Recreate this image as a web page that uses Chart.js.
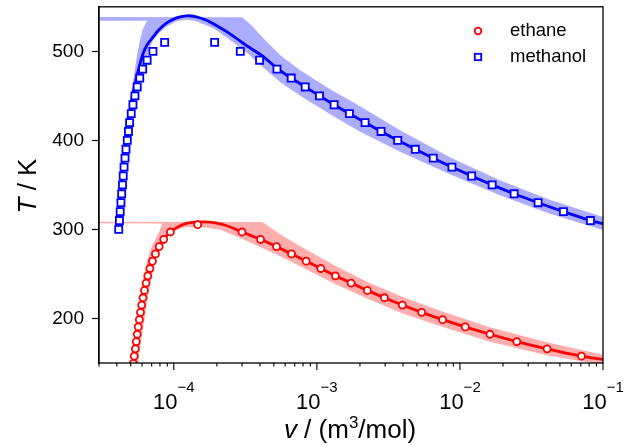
<!DOCTYPE html>
<html lang="en">
<head>
<meta charset="UTF-8">
<title>Saturation curves of ethane and methanol</title>
<script src="https://cdn.jsdelivr.net/npm/chart.js@4.4.0/dist/chart.umd.min.js"></script>
<style>
    html, body { margin: 0; padding: 0; background: #ffffff; }
    #wrap { width: 635px; height: 445px; }
</style>
</head>
<body>
<div id="wrap"><canvas id="chart" width="635" height="445"></canvas></div>
<script>
// ---- data: v in m3/mol, T in K ----
const ethaneLiqT = [297.1, 288.9, 280.7, 272.5, 264.3, 256.1, 247.9, 239.7, 231.5, 223.3, 215.1, 206.9, 198.7, 190.5, 182.3, 174.1, 165.9, 157.7, 149.5];
const ethaneLiqV = [9.47e-5, 8.50e-5, 7.90e-5, 7.44e-5, 7.09e-5, 6.81e-5, 6.58e-5, 6.40e-5, 6.235e-5, 6.09e-5, 5.96e-5, 5.845e-5, 5.74e-5, 5.64e-5, 5.55e-5, 5.465e-5, 5.38e-5, 5.29e-5, 5.21e-5];
const ethaneVapT = [305.3, 297.1, 288.9, 280.7, 272.5, 264.3, 256.1, 247.9, 239.7, 231.5, 223.3, 215.1, 206.9, 198.7, 190.5, 182.3, 174.1, 165.9, 157.7];
const ethaneVapV = [1.468e-4, 2.996e-4, 4.04e-4, 5.23e-4, 6.65e-4, 8.42e-4, 1.066e-3, 1.348e-3, 1.735e-3, 2.255e-3, 2.963e-3, 3.958e-3, 5.40e-3, 7.57e-3, 1.089e-2, 1.620e-2, 2.498e-2, 4.066e-2, 7.07e-2];

const methanolLiqT = [300, 310, 320, 330, 340, 350, 360, 370, 380, 390, 400, 410, 420, 430, 440, 450, 460, 470, 480, 490, 500, 510];
const methanolLiqV = [4.12e-5, 4.17e-5, 4.22e-5, 4.27e-5, 4.32e-5, 4.38e-5, 4.43e-5, 4.49e-5, 4.56e-5, 4.63e-5, 4.73e-5, 4.82e-5, 4.91e-5, 5.04e-5, 5.18e-5, 5.35e-5, 5.55e-5, 5.78e-5, 6.06e-5, 6.51e-5, 7.15e-5, 8.63e-5];
const methanolVapT = [510, 500, 490, 480, 470, 460, 450, 440, 430, 420, 410, 400, 390, 380, 370, 360, 350, 340, 330, 320, 310];
const methanolVapV = [1.929e-4, 2.916e-4, 3.976e-4, 5.26e-4, 6.62e-4, 8.29e-4, 1.043e-3, 1.32e-3, 1.689e-3, 2.173e-3, 2.81e-3, 3.675e-3, 4.876e-3, 6.51e-3, 8.79e-3, 1.207e-2, 1.68e-2, 2.393e-2, 3.52e-2, 5.29e-2, 8.17e-2];

// model curves
const ethaneModelV = [5.124e-5, 5.21e-5, 5.29e-5, 5.38e-5, 5.465e-5, 5.55e-5, 5.64e-5, 5.74e-5, 5.845e-5, 5.96e-5, 6.09e-5, 6.235e-5, 6.40e-5, 6.58e-5, 6.81e-5, 7.09e-5, 7.44e-5, 7.90e-5, 8.50e-5, 9.47e-5, 1.077e-4, 1.224e-4, 1.415e-4, 1.662e-4, 1.951e-4, 2.292e-4, 2.606e-4, 2.996e-4, 4.04e-4, 5.23e-4, 6.65e-4, 8.42e-4, 1.066e-3, 1.348e-3, 1.735e-3, 2.255e-3, 2.963e-3, 3.958e-3, 5.40e-3, 7.57e-3, 1.089e-2, 1.620e-2, 2.498e-2, 4.066e-2, 7.07e-2, 0.1];
const ethaneModelT = [145, 149.5, 157.7, 165.9, 174.1, 182.3, 190.5, 198.7, 206.9, 215.1, 223.3, 231.5, 239.7, 247.9, 256.1, 264.3, 272.5, 280.7, 288.9, 297.1, 303.0, 306.7, 308.3, 308.4, 307.3, 304.7, 301.4, 297.1, 288.9, 280.7, 272.5, 264.3, 256.1, 247.9, 239.7, 231.5, 223.3, 215.1, 206.9, 198.7, 190.5, 182.3, 174.1, 165.9, 157.7, 153.8];
const methanolModelV = [4.073e-5, 4.146e-5, 4.234e-5, 4.330e-5, 4.450e-5, 4.595e-5, 4.783e-5, 5.019e-5, 5.310e-5, 5.690e-5, 6.106e-5, 6.543e-5, 7.170e-5, 7.809e-5, 8.737e-5, 1.043e-4, 1.224e-4, 1.438e-4, 1.662e-4, 1.889e-4, 2.455e-4, 3.211e-4, 4.201e-4, 5.26e-4, 6.62e-4, 8.29e-4, 1.043e-3, 1.32e-3, 1.689e-3, 2.173e-3, 2.81e-3, 3.675e-3, 4.876e-3, 6.51e-3, 8.79e-3, 1.207e-2, 1.68e-2, 2.393e-2, 3.52e-2, 5.29e-2, 8.17e-2, 0.1];
const methanolModelT = [300.0, 320.2, 340.4, 360.7, 380.9, 400.0, 420.2, 440.4, 460.7, 480.9, 497.8, 507.9, 516.1, 523.6, 530.9, 537.6, 539.9, 538.8, 535.4, 530.9, 519.9, 506.7, 494.4, 480.9, 470, 460, 450, 440, 430, 420, 410, 400, 390, 380, 370, 360, 350, 340, 330, 320, 310, 306.2];

// uncertainty bands, outlined as closed shapes
const ethaneBandV = [2.9e-5, 4.153e-4, 5.545e-4, 7.647e-4, 1.342e-3, 2.244e-3, 3.939e-3, 7.608e-3, 1.62e-2, 4.047e-2, 0.1114, 0.1114, 4.066e-2, 1.62e-2, 7.608e-3, 3.939e-3, 2.244e-3, 1.342e-3, 8.42e-4, 5.226e-4, 4.04e-4, 2.996e-4, 2.114e-4, 1.533e-4, 1.205e-4, 1.026e-4, 9.47e-5, 8.88e-5, 8.19e-5, 7.5e-5, 7.03e-5, 6.7e-5, 6.437e-5, 6.235e-5, 5.99e-5, 5.78e-5, 5.616e-5, 5.083e-5, 5.207e-5, 5.377e-5, 5.553e-5, 5.735e-5, 5.94e-5, 6.185e-5, 6.49e-5, 6.92e-5, 7.44e-5, 7.935e-5, 8.26e-5, 8.26e-5, 2.9e-5];
const ethaneBandT = [308.6, 308.3, 294.6, 281.2, 259.3, 241.3, 224.5, 207.6, 190.2, 173.4, 157.7, 146.5, 158.8, 174.0, 190.3, 206.0, 222.5, 238.8, 255.3, 271.8, 280.0, 289.6, 299.7, 303.0, 302.5, 299.7, 295.7, 289.6, 280.0, 264.3, 248.6, 231.8, 214.9, 198.1, 181.3, 164.4, 146.5, 146.5, 164.4, 181.3, 198.1, 214.9, 231.8, 248.6, 264.3, 278.9, 289.0, 298.0, 305.8, 306.7, 306.9];
const methanolBandV = [2.9e-5, 3.01e-4, 3.54e-4, 4.29e-4, 5.55e-4, 7.65e-4, 1.238e-3, 2.006e-3, 3.814e-3, 8.51e-3, 1.901e-2, 4.246e-2, 0.1114, 0.1114, 4.246e-2, 1.901e-2, 8.51e-3, 3.814e-3, 2.006e-3, 1.238e-3, 7.65e-4, 5.55e-4, 4.201e-4, 3.211e-4, 2.483e-4, 1.889e-4, 1.438e-4, 1.224e-4, 1.043e-4, 8.737e-5, 7.809e-5, 7.09e-5, 6.647e-5, 5.94e-5, 5.377e-5, 4.939e-5, 4.669e-5, 4.398e-5, 4.239e-5, 4.124e-5, 4.027e-5, 4.138e-5, 4.286e-5, 4.484e-5, 4.707e-5, 4.939e-5, 5.267e-5, 5.527e-5, 5.754e-5, 6.036e-5, 6.49e-5, 2.9e-5];
const methanolBandT = [538.5, 538.2, 528.1, 513.5, 495.5, 478.7, 457.4, 438.3, 411.3, 381.0, 355.2, 333.3, 311.5, 296.9, 317.7, 338.4, 361.9, 387.2, 409.7, 429.3, 450.1, 465.2, 482.0, 498.9, 512.3, 525.8, 533.7, 535.4, 533.7, 526.9, 519.6, 511.2, 500.0, 473.1, 445.0, 416.9, 388.9, 360.8, 332.8, 300.2, 300.2, 332.8, 360.8, 388.9, 416.9, 445.0, 473.1, 495.5, 510.1, 523.6, 534.2, 534.2];

// axes
const xMin = 3e-5, xMax = 0.1;
const yMin = 150, yMax = 550;
const yTicks = [200, 300, 400, 500];
const xMajorTicks = [1e-4, 1e-3, 1e-2, 1e-1];
const xTickExponents = ['\u22124', '\u22123', '\u22122', '\u22121'];
const legendLabels = ['ethane', 'methanol'];

const FONT = "'Liberation Sans', Arial, Helvetica, sans-serif";
const RED = '#ff0000', BLUE = '#0000ff';

function pairs(vs, ts) {
    return vs.map((v, i) => ({ x: v, y: ts[i] }));
}

function bandSet(vs, ts, color) {
    return {
        data: pairs(vs, ts),
        showLine: true,
        borderWidth: 0,
        borderColor: 'rgba(0,0,0,0)',
        backgroundColor: color,
        fill: 'shape',
        pointRadius: 0,
        tension: 0,
        order: 3
    };
}

function modelSet(vs, ts, color) {
    return {
        data: pairs(vs, ts),
        showLine: true,
        borderColor: color,
        borderWidth: 2.8,
        fill: false,
        pointRadius: 0,
        tension: 0.25,
        clip: 0,
        order: 2
    };
}

function markerSet(vs, ts, color, style, r) {
    return {
        data: pairs(vs, ts),
        showLine: false,
        pointStyle: style,
        pointRadius: r,
        pointBorderWidth: 1.8,
        pointBorderColor: color,
        pointBackgroundColor: '#ffffff',
        borderColor: color,
        backgroundColor: '#ffffff',
        clip: 0,
        order: 1
    };
}

// frame, log ticks, superscript labels, titles and legend
const decorations = {
    id: 'decorations',
    afterDraw(chart) {
        const { ctx, chartArea: a } = chart;
        const x = chart.scales.x;
        ctx.save();

        ctx.strokeStyle = '#000';
        ctx.lineWidth = 1.3;
        ctx.strokeRect(a.left, a.top, a.right - a.left, a.bottom - a.top);

        // x ticks (major + minor)
        ctx.lineWidth = 1.1;
        for (let e = -5; e <= -1; e++) {
            for (let k = 1; k <= 9; k++) {
                const v = k * Math.pow(10, e);
                if (v < xMin * 0.999 || v > xMax * 1.001) continue;
                const px = x.getPixelForValue(v);
                const len = k === 1 ? 7 : 3.5;
                ctx.beginPath();
                ctx.moveTo(px, a.bottom);
                ctx.lineTo(px, a.bottom + len);
                ctx.stroke();
            }
        }

        // x tick labels 10^n
        ctx.fillStyle = '#000';
        ctx.textBaseline = 'alphabetic';
        ctx.textAlign = 'left';
        xMajorTicks.forEach((v, i) => {
            const px = x.getPixelForValue(v);
            ctx.font = '22px ' + FONT;
            const wBase = ctx.measureText('10').width;
            ctx.font = '15px ' + FONT;
            const wExp = ctx.measureText(xTickExponents[i]).width;
            const start = px - (wBase + wExp) / 2;
            ctx.font = '22px ' + FONT;
            ctx.fillText('10', start, 409);
            ctx.font = '15px ' + FONT;
            ctx.fillText(xTickExponents[i], start + wBase, 392);
        });

        // x title: v / (m3/mol)
        const parts = [
            { t: 'v', f: 'italic 26px ' + FONT, dy: 0 },
            { t: ' / (m', f: '26px ' + FONT, dy: 0 },
            { t: '3', f: '17px ' + FONT, dy: -10 },
            { t: '/mol)', f: '26px ' + FONT, dy: 0 }
        ];
        let total = 0;
        parts.forEach(p => { ctx.font = p.f; p.w = ctx.measureText(p.t).width; total += p.w; });
        let cx = 350 - total / 2;
        parts.forEach(p => {
            ctx.font = p.f;
            ctx.fillText(p.t, cx, 438 + p.dy);
            cx += p.w;
        });

        // y title: T / K
        ctx.save();
        ctx.translate(36, 186);
        ctx.rotate(-Math.PI / 2);
        ctx.font = 'italic 26px ' + FONT;
        const wT = ctx.measureText('T').width;
        ctx.font = '26px ' + FONT;
        const wRest = ctx.measureText(' / K').width;
        let sx = -(wT + wRest) / 2;
        ctx.font = 'italic 26px ' + FONT;
        ctx.fillText('T', sx, 0);
        ctx.font = '26px ' + FONT;
        ctx.fillText(' / K', sx + wT, 0);
        ctx.restore();

        // legend
        ctx.lineWidth = 1.8;
        ctx.fillStyle = '#fff';
        ctx.strokeStyle = RED;
        ctx.beginPath();
        ctx.arc(478, 31, 3.3, 0, Math.PI * 2);
        ctx.fill();
        ctx.stroke();
        ctx.strokeStyle = BLUE;
        ctx.fillRect(474.8, 53.8, 6.4, 6.4);
        ctx.strokeRect(474.8, 53.8, 6.4, 6.4);
        ctx.fillStyle = '#000';
        ctx.font = '18.5px ' + FONT;
        ctx.textBaseline = 'middle';
        ctx.fillText(legendLabels[0], 510, 31);
        ctx.fillText(legendLabels[1], 510, 57);

        ctx.restore();
    }
};

new Chart(document.getElementById('chart'), {
    type: 'line',
    data: {
        datasets: [
            Object.assign(markerSet(ethaneLiqV, ethaneLiqT, RED, 'circle', 3.5), { label: 'ethane' }),
            Object.assign(markerSet(ethaneVapV, ethaneVapT, RED, 'circle', 3.5), { label: 'ethane vapour' }),
            Object.assign(markerSet(methanolLiqV, methanolLiqT, BLUE, 'rect', 5), { label: 'methanol' }),
            Object.assign(markerSet(methanolVapV, methanolVapT, BLUE, 'rect', 5), { label: 'methanol vapour' }),
            Object.assign(modelSet(ethaneModelV, ethaneModelT, RED), { label: 'ethane model' }),
            Object.assign(modelSet(methanolModelV, methanolModelT, BLUE), { label: 'methanol model' }),
            Object.assign(bandSet(ethaneBandV, ethaneBandT, 'rgba(255,0,0,0.32)'), { label: 'ethane band' }),
            Object.assign(bandSet(methanolBandV, methanolBandT, 'rgba(0,0,255,0.32)'), { label: 'methanol band' })
        ]
    },
    options: {
        responsive: false,
        animation: false,
        events: [],
        layout: { padding: { top: 6, right: 32, left: 0, bottom: 0 } },
        plugins: {
            legend: { display: false },
            tooltip: { enabled: false },
            title: { display: false }
        },
        scales: {
            x: {
                type: 'logarithmic',
                min: xMin,
                max: xMax,
                ticks: { display: false },
                grid: { display: false },
                border: { display: false },
                afterFit(scale) {
                    scale.height = 82;
                    scale.paddingLeft = 0;
                    scale.paddingRight = 0;
                }
            },
            y: {
                type: 'linear',
                min: yMin,
                max: yMax,
                afterBuildTicks(scale) { scale.ticks = yTicks.map(v => ({ value: v })); },
                ticks: {
                    color: '#000',
                    padding: 8,
                    font: { family: FONT, size: 19 }
                },
                grid: {
                    drawOnChartArea: false,
                    drawTicks: true,
                    tickLength: 7,
                    tickColor: '#000',
                    tickWidth: 1.2
                },
                border: { display: true, color: '#000', width: 1.3 },
                afterFit(scale) {
                    scale.width = 99;
                    scale.paddingTop = 0;
                    scale.paddingBottom = 0;
                }
            }
        }
    },
    plugins: [decorations]
});
</script>
</body>
</html>
